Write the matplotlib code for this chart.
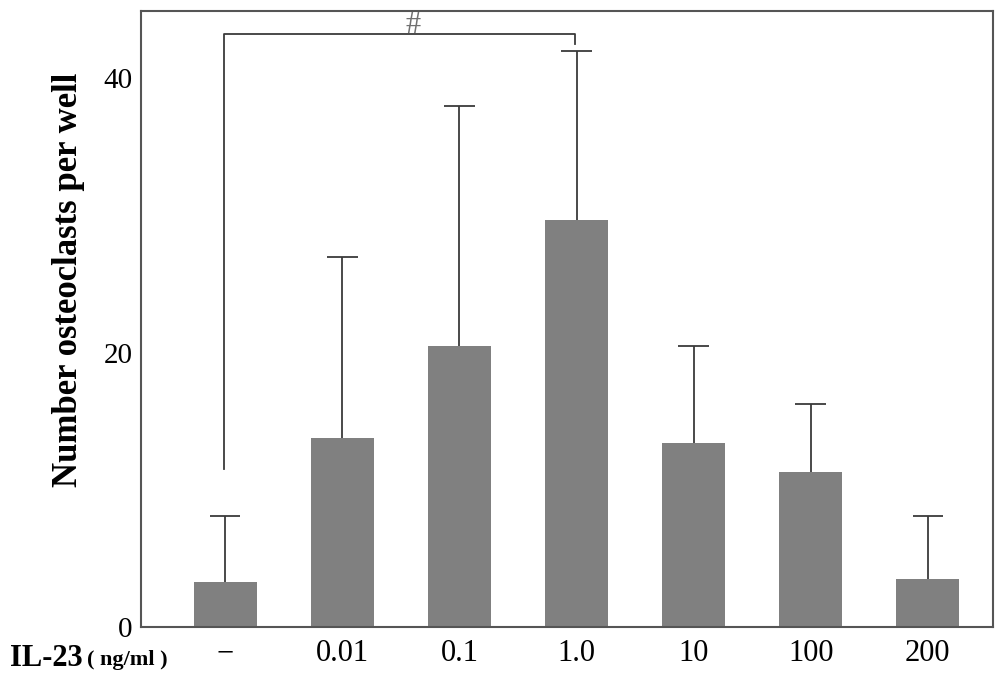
"""
IL-23 dose vs number of osteoclasts per well (bar chart + SD + significance bracket).
"""
import matplotlib.pyplot as plt

plt.rcParams['font.family'] = ['Liberation Serif', 'DejaVu Serif']

doses = ['\u2212', '0.01', '0.1', '1.0', '10', '100', '200']
means = [3.3, 13.8, 20.5, 29.7, 13.4, 11.3, 3.5]
sd_upper = [4.8, 13.2, 17.5, 12.3, 7.1, 4.95, 4.6]
yticks = [0, 20, 40]

BAR = '#808080'
DARK = '#3a3a3a'


def main() -> None:
    fig = plt.figure(figsize=(10.04, 6.76), dpi=100)
    ax = fig.add_axes([0.1404, 0.0725, 0.849, 0.9112])

    xs = list(range(len(doses)))
    ax.bar(xs, means, width=0.54, color=BAR, edgecolor='none', zorder=2)
    # upper-only SD bars with a single cap
    tops = [m + s for m, s in zip(means, sd_upper)]
    ax.vlines(xs, means, tops, color=DARK, linewidth=1.3, zorder=1)
    ax.hlines(tops, [x - 0.13 for x in xs], [x + 0.13 for x in xs],
              color=DARK, linewidth=1.3, zorder=1)

    # significance bracket: control vs 1.0 ng/ml
    y_top = 43.2
    ax.plot([-0.01, -0.01, 2.99, 2.99], [11.5, y_top, y_top, 42.5],
            color=DARK, linewidth=1.3, zorder=3)
    ax.text(1.6, y_top - 0.4, '#', ha='center', va='bottom',
            fontsize=22, color='#707070')

    ax.set_xlim(-0.72, 6.56)
    ax.set_ylim(0, 44.9)
    ax.set_xticks(xs)
    ax.set_xticklabels(doses, fontsize=22)
    ax.set_yticks(yticks)
    ax.set_yticklabels([str(t) for t in yticks], fontsize=21)
    ax.tick_params(axis='both', length=0)
    ax.tick_params(axis='x', pad=9)
    ax.tick_params(axis='y', pad=6)
    for sp in ax.spines.values():
        sp.set_color('#555555')
        sp.set_linewidth(1.5)

    ax.set_ylabel('Number osteoclasts per well', fontsize=25,
                  fontweight='bold')
    ax.yaxis.set_label_coords(-0.066, 0.563)

    fig.text(0.010, 0.026, 'IL-23', fontsize=22, fontweight='bold',
             ha='left', va='center')
    fig.text(0.087, 0.024, '( ng/ml )', fontsize=16, fontweight='bold',
             ha='left', va='center')

    fig.savefig('out.png', dpi=100)
    plt.close(fig)


if __name__ == '__main__':
    main()
